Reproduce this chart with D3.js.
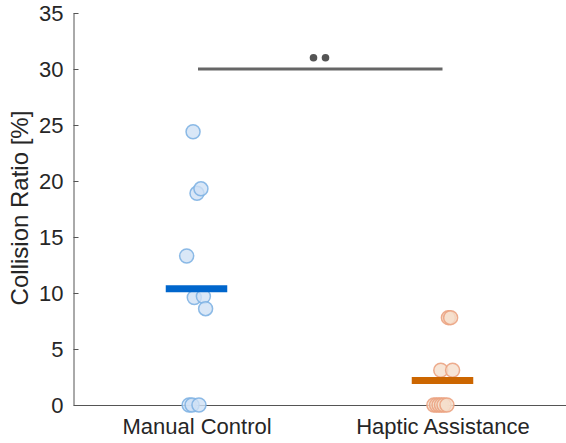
<!DOCTYPE html>
<html>
<head>
<meta charset="utf-8">
<script src="https://cdn.jsdelivr.net/npm/d3@7"></script>
<style>
  html, body { margin: 0; padding: 0; background: #fff; }
  svg { display: block; font-family: "Liberation Sans", Arial, Helvetica, sans-serif; }
</style>
</head>
<body>
<svg id="chart" width="566" height="443"></svg>
<script>
// Groups shown on the x axis
const categories = ["Manual Control", "Haptic Assistance"];

// Per-participant collision ratio [%] for each condition
const manualValues = [0, 0, 0, 13.3, 24.4, 9.6, 18.9, 19.3, 9.7, 8.6];
const hapticValues = [0, 0, 0, 0, 0, 0, 3.1, 7.8, 7.8, 3.1];

// Horizontal jitter of each point, in category units
const manualJitter = [-0.030, -0.018, 0.010, -0.040, -0.014, -0.009, 0.002, 0.018, 0.028, 0.037];
const hapticJitter = [-0.035, -0.024, -0.014, -0.004, 0.006, 0.018, -0.007, 0.024, 0.033, 0.041];

// Y axis ticks
const yTicks = [0, 5, 10, 15, 20, 25, 30, 35];

// Significance bracket between the two conditions
const bracketLevel = 30;
const starLevel = 31;

// Mean bar colours, marker fill and marker edge colours per condition
const seriesColors = ["#0066cc", "#cc6600"];
const markerFill = ["#cfe1f5", "#f5dfcc"];
const markerEdge = ["#7fb3e3", "#eba382"];

const svg = d3.select("#chart");
const margin = { left: 73.5, right: 0.5, top: 13, bottom: 38 };
const W = 566, H = 443;

const x = d3.scaleLinear().domain([0.5, 2.5]).range([margin.left, W - margin.right]);
const y = d3.scaleLinear().domain([0, 35]).range([H - margin.bottom, margin.top]);

const textColor = "#262626";
const axisColor = "#555";

// Y axis
const yAxis = svg.append("g")
  .attr("transform", `translate(${margin.left},0)`)
  .call(d3.axisLeft(y).tickValues(yTicks).tickSizeInner(-5).tickSizeOuter(0).tickPadding(10));
yAxis.select(".domain").attr("stroke", axisColor);
yAxis.selectAll(".tick line").attr("stroke", axisColor);
yAxis.selectAll(".tick text").attr("fill", textColor).attr("font-size", 22)
  .attr("font-family", "'Liberation Sans', Arial, sans-serif");

// X axis
const xAxis = svg.append("g")
  .attr("transform", `translate(0,${y(0)})`)
  .call(d3.axisBottom(x).tickValues([1, 2]).tickFormat((d) => categories[d - 1])
    .tickSize(0).tickPadding(13));
xAxis.select(".domain").attr("stroke", axisColor);
xAxis.selectAll(".tick text").attr("fill", textColor).attr("font-size", 22)
  .attr("font-family", "'Liberation Sans', Arial, sans-serif");

// Y axis title
svg.append("text")
  .attr("transform", `translate(28,${(y(0) + y(35)) / 2 - 1}) rotate(-90)`)
  .attr("text-anchor", "middle")
  .attr("fill", textColor)
  .attr("font-size", 24)
  .text("Collision Ratio [%]");

// Individual points
const groups = [
  { values: manualValues, jitter: manualJitter, pos: 1, k: 0 },
  { values: hapticValues, jitter: hapticJitter, pos: 2, k: 1 }
];

groups.forEach((g) => {
  svg.append("g").selectAll("circle")
    .data(g.values.map((v, i) => ({ v, j: g.jitter[i] })))
    .join("circle")
    .attr("cx", (d) => x(g.pos + d.j))
    .attr("cy", (d) => y(d.v))
    .attr("r", 7)
    .attr("fill", markerFill[g.k])
    .attr("fill-opacity", 0.8)
    .attr("stroke", markerEdge[g.k])
    .attr("stroke-opacity", 0.9)
    .attr("stroke-width", 1.5);
});

// Mean bars
groups.forEach((g) => {
  const m = d3.mean(g.values);
  svg.append("line")
    .attr("x1", x(g.pos - 0.125))
    .attr("x2", x(g.pos + 0.125))
    .attr("y1", y(m))
    .attr("y2", y(m))
    .attr("stroke", seriesColors[g.k])
    .attr("stroke-width", 7);
});

// Significance bracket and markers
svg.append("line")
  .attr("x1", x(1) + 1.5)
  .attr("x2", x(2))
  .attr("y1", y(bracketLevel))
  .attr("y2", y(bracketLevel))
  .attr("stroke", "#666")
  .attr("stroke-width", 3);

svg.append("g").selectAll("circle")
  .data([-1, 1])
  .join("circle")
  .attr("cx", (d) => x(1.5) + d * 6)
  .attr("cy", y(starLevel))
  .attr("r", 3.8)
  .attr("fill", "#555");
</script>
</body>
</html>
